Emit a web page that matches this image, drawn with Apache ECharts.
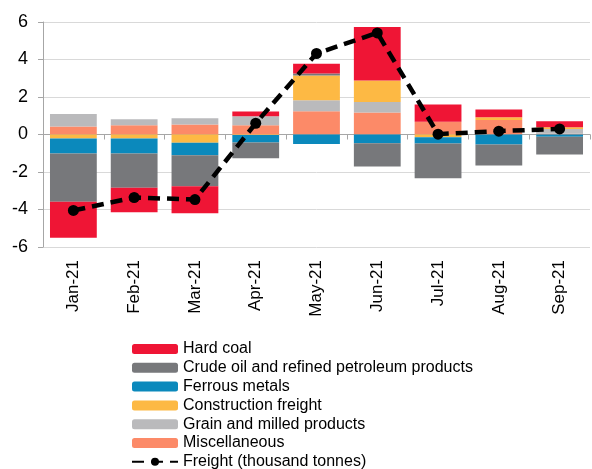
<!DOCTYPE html>
<html>
<head>
<meta charset="utf-8">
<script src="https://cdn.jsdelivr.net/npm/echarts@6/dist/echarts.min.js"></script>
<style>
  html, body { margin: 0; padding: 0; background: #fff; }
  #chart { width: 592px; height: 469px; }
</style>
</head>
<body>
<div id="chart"></div>
<script>
var months = ['Jan-21', 'Feb-21', 'Mar-21', 'Apr-21', 'May-21', 'Jun-21', 'Jul-21', 'Aug-21', 'Sep-21'];
var hardCoal = [-1.92, -1.30, -1.44, 0.25, 0.52, 2.86, 0.92, 0.41, 0.32];
var crudeOil = [-2.58, -1.83, -1.66, -0.83, 0.10, -1.25, -1.85, -1.12, -0.95];
var ferrous = [-0.80, -0.80, -0.66, -0.40, -0.50, -0.46, -0.33, -0.53, -0.12];
var construction = [-0.21, -0.21, -0.44, -0.03, 1.32, 1.14, -0.15, 0.14, 0.09];
var grain = [0.67, 0.32, 0.34, 0.48, 0.59, 0.57, 0.00, 0.00, 0.26];
var misc = [0.43, 0.50, 0.53, 0.50, 1.24, 1.17, 0.68, 0.78, 0.04];
var freight = [-4.05, -3.36, -3.47, 0.60, 4.32, 5.42, 0.02, 0.18, 0.30];
var yTicks = [-6, -4, -2, 0, 2, 4, 6];

var font = 'Liberation Sans, Arial, sans-serif';

function barSeries(name, data, color) {
  return {
    name: name,
    type: 'bar',
    stack: 'freight',
    data: data,
    barWidth: '77%',
    itemStyle: { color: color },
    xAxisIndex: 0
  };
}

var option = {
  animation: false,
  grid: { left: 43, right: 2, top: 22, bottom: 222 },
  legend: {
    orient: 'vertical',
    left: 126,
    top: 336,
    height: 160,
    itemWidth: 46,
    itemHeight: 10,
    itemGap: 2.8,
    textStyle: { fontFamily: font, fontSize: 16, color: '#000' },
    data: ['Hard coal', 'Crude oil and refined petroleum products', 'Ferrous metals',
           'Construction freight', 'Grain and milled products', 'Miscellaneous', 'Freight (thousand tonnes)']
  },
  xAxis: [{
    type: 'category',
    data: months,
    axisLine: { onZero: true, lineStyle: { color: '#a6a6a6' } },
    axisTick: { show: true, length: 5, lineStyle: { color: '#a6a6a6' } },
    axisLabel: { show: false }
  }, {
    type: 'category',
    data: months,
    position: 'bottom',
    axisLine: { show: false },
    axisTick: { show: false },
    axisLabel: { rotate: 90, margin: 13, fontFamily: font, fontSize: 17, color: '#000' }
  }],
  yAxis: {
    type: 'value',
    min: -6,
    max: 6,
    interval: 2,
    axisLine: { show: true, lineStyle: { color: '#a6a6a6' } },
    axisTick: { show: true, length: 5, lineStyle: { color: '#a6a6a6' } },
    splitLine: { lineStyle: { color: '#d9d9d9' } },
    axisLabel: {
      margin: 15,
      fontFamily: font,
      fontSize: 18,
      color: '#000',
      formatter: function (v) { return yTicks.indexOf(v) >= 0 ? String(v) : ''; }
    }
  },
  series: [
    barSeries('Miscellaneous', misc, '#fc8a68'),
    barSeries('Grain and milled products', grain, '#bababc'),
    barSeries('Construction freight', construction, '#fdb944'),
    barSeries('Ferrous metals', ferrous, '#0b89bc'),
    barSeries('Crude oil and refined petroleum products', crudeOil, '#77787b'),
    barSeries('Hard coal', hardCoal, '#ef1535'),
    {
      name: 'Freight (thousand tonnes)',
      type: 'line',
      data: freight,
      xAxisIndex: 0,
      z: 10,
      symbol: 'circle',
      symbolSize: 11,
      itemStyle: { color: '#000' },
      lineStyle: { color: '#000', width: 4.5, type: [12, 7] }
    }
  ]
};

var myChart = echarts.init(document.getElementById('chart'));
myChart.setOption(option);
</script>
</body>
</html>
